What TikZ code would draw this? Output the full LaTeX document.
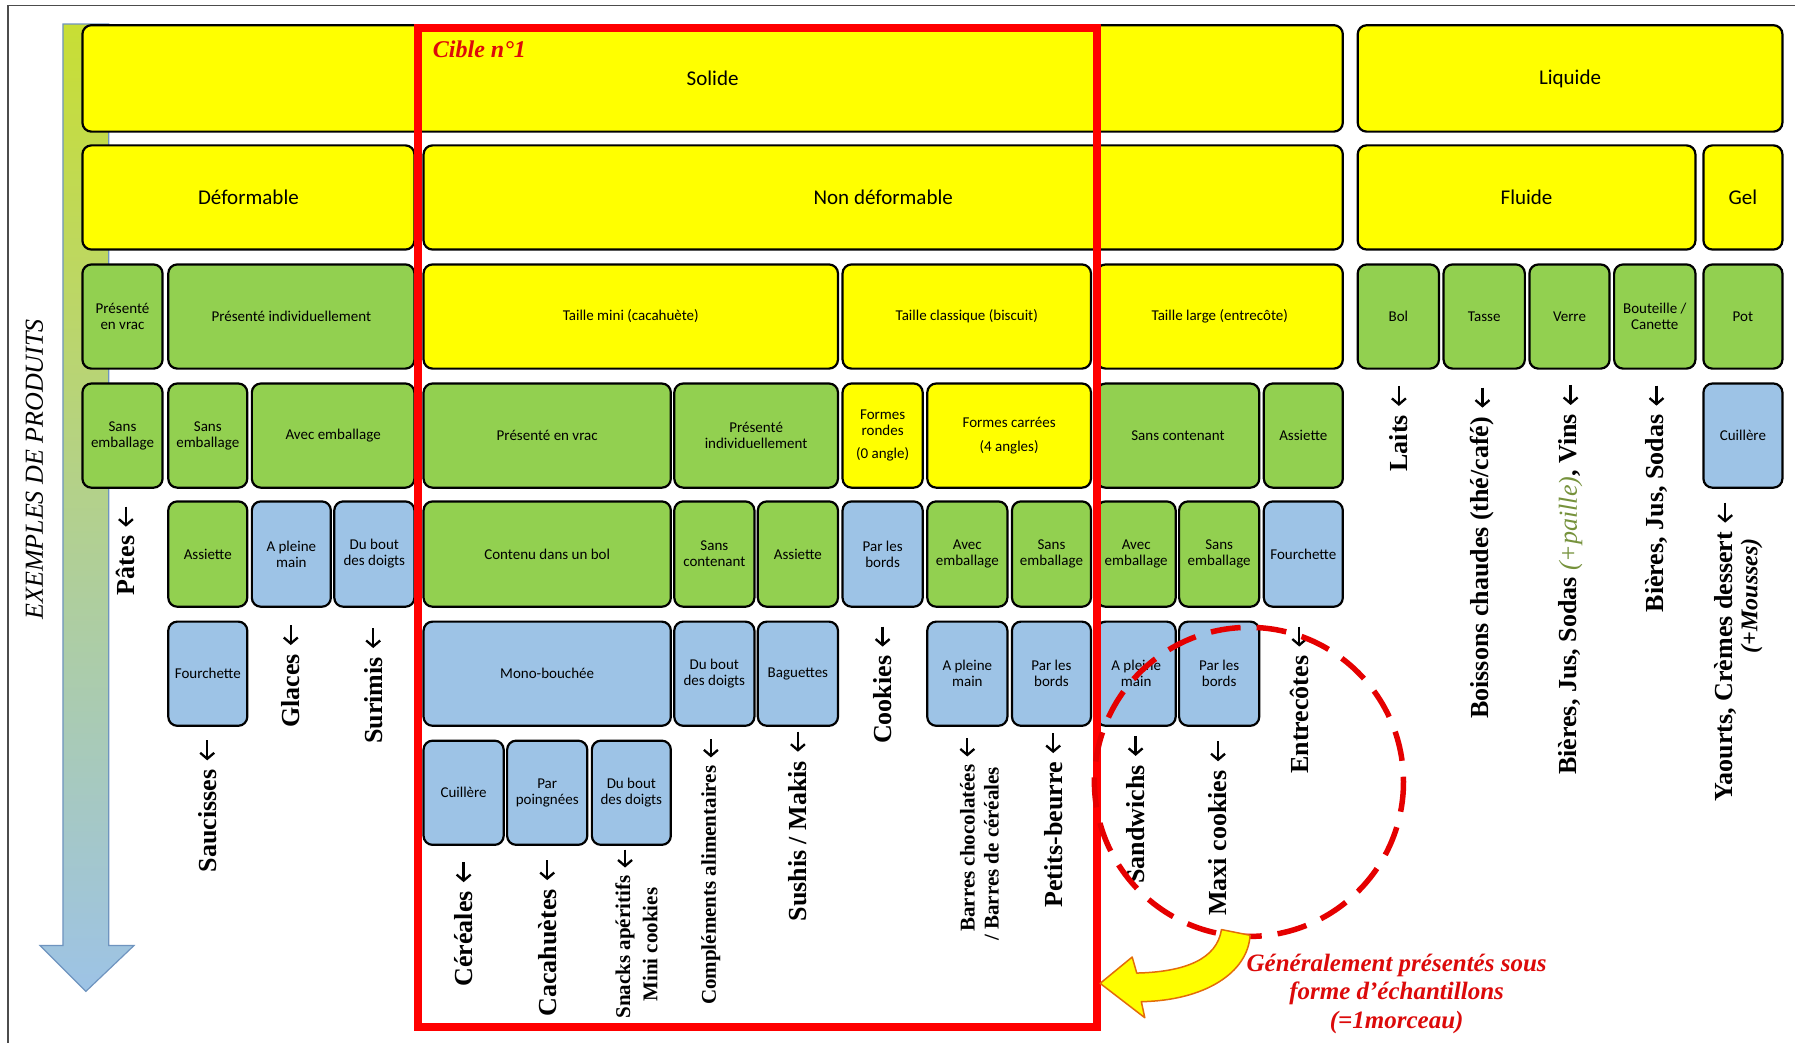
\documentclass[tikz,border=0pt]{standalone}
\usepackage{fontspec}
\usetikzlibrary{arrows.meta}
\newfontfamily\calfont{Carlito}
\newfontfamily\tnrfont{Liberation Serif}
\definecolor{Y}{HTML}{FFFF00}
\definecolor{G}{HTML}{92D050}
\definecolor{B}{HTML}{9DC3E6}
\definecolor{barline}{HTML}{6F94BF}
\definecolor{bartop}{HTML}{C8DE34}
\definecolor{barmid}{HTML}{9CC8B0}
\definecolor{redtxt}{HTML}{DC0A0A}
\definecolor{paille}{HTML}{76923C}
\definecolor{arrline}{HTML}{E36C09}
\newcommand{\bx}[7]{%
  \node[bx,fill=#6,minimum width={(#4-#2)*1.1448pt},minimum height={(#5-#3)*1.1448pt}] (#1) at ({(#2+#4)/2},{(#3+#5)/2}) {#7};}
\newcommand{\larr}[1]{\draw[lbarrow] ([yshift=29pt]#1.east) -- ([yshift=9pt]#1.east);}
\newcommand{\larrs}[1]{\draw[lbarrow] ([yshift=26pt]#1.east) -- ([yshift=8pt]#1.east);}
\begin{document}
\begin{tikzpicture}[x=1.1448pt,y=-1.1448pt,
  bx/.style={draw=black,line width=2.2pt,rounded corners=9pt,inner sep=0pt,align=center,
    font=\calfont\fontsize{15}{16}\selectfont},
  lab/.style={rotate=90,anchor=west,inner sep=0pt,align=center,
    font=\tnrfont\bfseries\fontsize{26}{28}\selectfont},
  labs/.style={lab,font=\tnrfont\bfseries\fontsize{21}{24}\selectfont},
  lbarrow/.style={line width=2.3pt,-{Straight Barb[length=6pt,width=14pt]}}]
\useasboundingbox (0,0) rectangle (1568,911);
\fill[white] (0,0) rectangle (1568,911);
% outer frame
\draw[line width=1.2pt,black!70] (7,911) -- (7,5) -- (1568,5);
% gradient arrow
\shadedraw[top color=bartop,middle color=barmid,bottom color=B,draw=barline,line width=1.2pt]
  (55,21) -- (95,21) -- (95,826) -- (117,826) -- (75,866) -- (35,826) -- (55,826) -- cycle;
\node[rotate=90,inner sep=0pt,font=\tnrfont\itshape\fontsize{26}{28}\selectfont] (exemples) at (30,410) {EXEMPLES DE PRODUITS};
% row 1
\bx{solide}{72}{22}{1173}{115}{Y}{\fontsize{21}{25}\selectfont Solide}
\bx{liquide}{1186}{22}{1557}{115}{Y}{\fontsize{21}{25}\selectfont Liquide}
% row 2
\bx{deform}{72}{127}{362}{218}{Y}{\fontsize{21}{25}\selectfont Déformable}
\bx{nondef}{370}{127}{1173}{218}{Y}{\fontsize{21}{25}\selectfont Non déformable}
\bx{fluide}{1186}{127}{1481}{218}{Y}{\fontsize{21}{25}\selectfont Fluide}
\bx{gel}{1488}{127}{1557}{218}{Y}{\fontsize{21}{25}\selectfont Gel}
% row 3
\bx{vrac1}{72}{231}{142}{322}{G}{Présenté\\en vrac}
\bx{indiv1}{147}{231}{362}{322}{G}{Présenté individuellement}
\bx{mini}{370}{231}{732}{322}{Y}{Taille mini (cacahuète)}
\bx{classique}{736}{231}{953}{322}{Y}{Taille classique (biscuit)}
\bx{large}{958}{231}{1173}{322}{Y}{Taille large (entrecôte)}
\bx{bol}{1186}{231}{1257}{322}{G}{Bol}
\bx{tasse}{1261}{231}{1332}{322}{G}{Tasse}
\bx{verre}{1336}{231}{1406}{322}{G}{Verre}
\bx{bouteille}{1410}{231}{1481}{322}{G}{Bouteille /\\Canette}
\bx{pot}{1488}{231}{1557}{322}{G}{Pot}
% row 4
\bx{se1}{72}{335}{142}{426}{G}{Sans\\emballage}
\bx{se2}{147}{335}{216}{426}{G}{Sans\\emballage}
\bx{ae1}{220}{335}{362}{426}{G}{Avec emballage}
\bx{vrac2}{370}{335}{586}{426}{G}{Présenté en vrac}
\bx{indiv2}{589}{335}{732}{426}{G}{Présenté\\individuellement}
\bx{rondes}{736}{335}{806}{426}{Y}{Formes\\rondes\\[7pt](0 angle)}
\bx{carrees}{810}{335}{953}{426}{Y}{Formes carrées\\[8pt](4 angles)}
\bx{sc1}{958}{335}{1100}{426}{G}{Sans contenant}
\bx{ass1}{1104}{335}{1173}{426}{G}{Assiette}
\bx{cuil1}{1488}{335}{1557}{426}{B}{Cuillère}
% row 5
\bx{ass2}{147}{438}{216}{530}{G}{Assiette}
\bx{apm1}{220}{438}{289}{530}{B}{A pleine\\main}
\bx{dbd1}{292}{438}{362}{530}{B}{Du bout\\des doigts}
\bx{bol2}{370}{438}{586}{530}{G}{Contenu dans un bol}
\bx{sc2}{589}{438}{659}{530}{G}{Sans\\contenant}
\bx{ass3}{662}{438}{732}{530}{G}{Assiette}
\bx{plb1}{736}{438}{806}{530}{B}{Par les\\bords}
\bx{ae2}{810}{438}{880}{530}{G}{Avec\\emballage}
\bx{se3}{884}{438}{953}{530}{G}{Sans\\emballage}
\bx{ae3}{958}{438}{1027}{530}{G}{Avec\\emballage}
\bx{se4}{1030}{438}{1100}{530}{G}{Sans\\emballage}
\bx{four1}{1104}{438}{1173}{530}{B}{Fourchette}
% row 6
\bx{four2}{147}{543}{216}{634}{B}{Fourchette}
\bx{mono}{370}{543}{586}{634}{B}{Mono-bouchée}
\bx{dbd2}{589}{543}{659}{634}{B}{Du bout\\des doigts}
\bx{bag}{662}{543}{732}{634}{B}{Baguettes}
\bx{apm2}{810}{543}{880}{634}{B}{A pleine\\main}
\bx{plb2}{884}{543}{953}{634}{B}{Par les\\bords}
\bx{apm3}{958}{543}{1027}{634}{B}{A pleine\\main}
\bx{plb3}{1030}{543}{1100}{634}{B}{Par les\\bords}
% row 7
\bx{cuil2}{370}{647}{440}{738}{B}{Cuillère}
\bx{poi}{443}{647}{513}{738}{B}{Par\\poingnées}
\bx{dbd3}{517}{647}{586}{738}{B}{Du bout\\des doigts}
% example labels
\node[lab] (pates) at (110,520) {Pâtes};
\node[lab] (saucisses) at (181,762) {Saucisses};
\node[lab] (glaces) at (254,636) {Glaces};
\node[lab] (surimis) at (326,650) {Surimis};
\node[lab] (cereales) at (405,862) {Céréales};
\node[lab] (cacahuetes) at (478,888) {Cacahuètes};
\node[labs] (snacks) at (546,890) {Snacks apéritifs};
\node[labs] (minicookies) at (568,875) {Mini cookies};
\node[labs] (complements) at (621,878) {Compléments alimentaires};
\node[lab] (sushis) at (697,805) {Sushis / Makis};
\node[lab] (cookies) at (771,650) {Cookies};
\node[labs] (barres1) at (845,814) {Barres chocolatées};
\node[labs] (barres2) at (866,822) {/ Barres de céréales};
\node[lab] (petits) at (920,793) {Petits-beurre};
\node[lab] (sandwichs) at (992,772) {Sandwichs};
\node[lab] (maxi) at (1064,800) {Maxi cookies};
\node[lab] (entrecotes) at (1135,676) {Entrecôtes};
\node[lab] (laits) at (1222,412) {Laits};
\node[lab] (boissons) at (1295,628) {Boissons chaudes (thé/café)};
\node[lab] (bieres1) at (1372,677) {Bières, Jus, Sodas {\color{paille}\mdseries\itshape(+paille)}, Vins};
\node[lab] (bieres2) at (1447,535) {Bières, Jus, Sodas};
\node[lab] (yaourts) at (1507,700) {Yaourts, Crèmes dessert};
\node[lab,anchor=east,font=\tnrfont\bfseries\itshape\fontsize{24}{26}\selectfont] (mousses) at (1530,470) {(+Mousses)};
\foreach \n in {pates,saucisses,glaces,surimis,cereales,cacahuetes,sushis,cookies,petits,sandwichs,maxi,entrecotes,laits,boissons,bieres1,bieres2,yaourts}{\larr{\n}}
\foreach \n in {snacks,complements,barres1}{\larrs{\n}}
% target frame
\draw[red,line width=8pt] (365.5,24.5) rectangle (958,897);
\node[anchor=west,inner sep=0pt,text=redtxt,font=\tnrfont\bfseries\itshape\fontsize{24}{26}\selectfont] (cible) at (378,43) {Cible n°1};
% dashed circle
\draw[red!90!black,line width=5.5pt,dash pattern=on 30pt off 16pt] (1091,683) circle[radius=135];
% curved yellow arrow
\draw[fill=Y,draw=arrline,line width=1.5pt,line join=round]
  (1067,812) .. controls (1063,838) and (1035,849) .. (993,850) -- (989,836) -- (961,859)
  -- (1000,889) -- (997,875) .. controls (1052,874) and (1090,850) .. (1092,817) -- cycle;
\node[align=center,inner sep=0pt,text=redtxt,font=\tnrfont\bfseries\itshape\fontsize{25}{28.5}\selectfont] (note) at (1220,868)
  {Généralement présentés sous\\forme d’échantillons\\(=1morceau)};
\end{tikzpicture}
\end{document}
